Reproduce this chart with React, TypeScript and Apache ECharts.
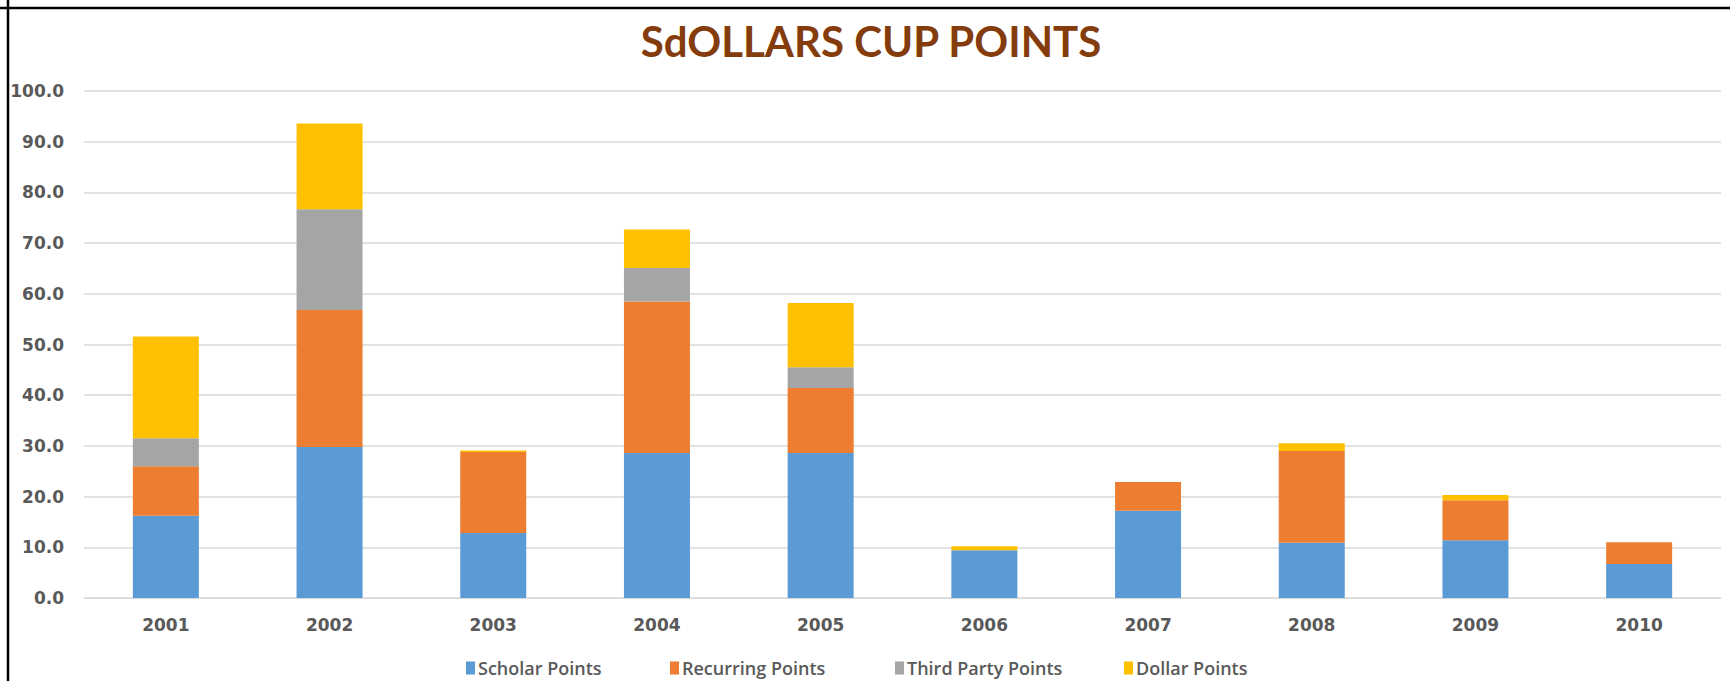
import React, { useEffect, useRef } from "react";
import * as echarts from "echarts";

const years = ["2001", "2002", "2003", "2004", "2005", "2006", "2007", "2008", "2009", "2010"];
const scholarPoints = [16.2, 29.8, 12.8, 28.6, 28.6, 9.4, 17.2, 10.9, 11.4, 6.7];
const recurringPoints = [9.8, 27.0, 16.0, 29.9, 12.8, 0.0, 5.7, 18.1, 7.9, 4.3];
const thirdPartyPoints = [5.5, 19.9, 0.0, 6.6, 4.1, 0.0, 0.0, 0.0, 0.0, 0.0];
const dollarPoints = [20.1, 16.9, 0.3, 7.6, 12.7, 0.8, 0.0, 1.5, 1.0, 0.0];
const yTicks = { min: 0, max: 100, interval: 10 };

const seriesNames = ["Scholar Points", "Recurring Points", "Third Party Points", "Dollar Points"];
const seriesColors = ["#5B9BD5", "#ED7D31", "#A5A5A5", "#FFC000"];
const legendLefts = [466, 670, 895, 1124];

export default function App() {
  const ref = useRef<HTMLDivElement>(null);
  useEffect(() => {
    if (!ref.current) return;
    const chart = echarts.init(ref.current, undefined, { renderer: "svg" });
    const data = [scholarPoints, recurringPoints, thirdPartyPoints, dollarPoints];
    chart.setOption({
      animation: false,
      backgroundColor: "#ffffff",
      title: {
        text: "SdOLLARS CUP POINTS",
        left: 866,
        textAlign: "center",
        top: 15,
        textStyle: {
          fontFamily: "Lato",
          fontWeight: "bold",
          fontSize: 42,
          color: "#843C0C",
        },
      },
      legend: seriesNames.map((name, i) => ({
        data: [name],
        left: legendLefts[i],
        top: 659,
        padding: 0,
        itemWidth: 9,
        itemHeight: 13,
        itemGap: 0,
        icon: "rect",
        textStyle: {
          fontFamily: "Open Sans",
          fontWeight: 600,
          fontSize: 18,
          color: "#595959",
          padding: [0, 0, 0, -2],
        },
      })),
      grid: { left: 84, right: 9, top: 91, bottom: 83 },
      xAxis: {
        type: "category",
        data: years,
        axisLine: { show: true, lineStyle: { color: "#D9D9D9" } },
        axisTick: { show: false },
        axisLabel: {
          fontFamily: "DejaVu Sans",
          fontWeight: "bold",
          fontSize: 17,
          color: "#595959",
          margin: 18,
        },
      },
      yAxis: {
        type: "value",
        min: yTicks.min,
        max: yTicks.max,
        interval: yTicks.interval,
        axisLine: { show: false },
        axisTick: { show: false },
        splitLine: { lineStyle: { color: "#D9D9D9", width: 1.5 } },
        axisLabel: {
          formatter: (v: number) => v.toFixed(1),
          fontFamily: "DejaVu Sans",
          fontWeight: "bold",
          fontSize: 17,
          color: "#595959",
          margin: 20,
        },
      },
      series: seriesNames.map((name, i) => ({
        name,
        type: "bar",
        stack: "total",
        barWidth: 66,
        data: data[i],
        itemStyle: { color: seriesColors[i] },
      })),
      graphic: [
        { type: "line", shape: { x1: 8, y1: 0, x2: 8, y2: 681 }, style: { stroke: "#000", lineWidth: 2.5 }, z: 100 },
        { type: "line", shape: { x1: 0, y1: 8, x2: 1730, y2: 8 }, style: { stroke: "#000", lineWidth: 2.5 }, z: 100 },
      ],
    });
    return () => chart.dispose();
  }, []);
  return (
    <div
      ref={ref}
      style={{ position: "fixed", left: 0, top: 0, width: 1730, height: 681 }}
    />
  );
}
